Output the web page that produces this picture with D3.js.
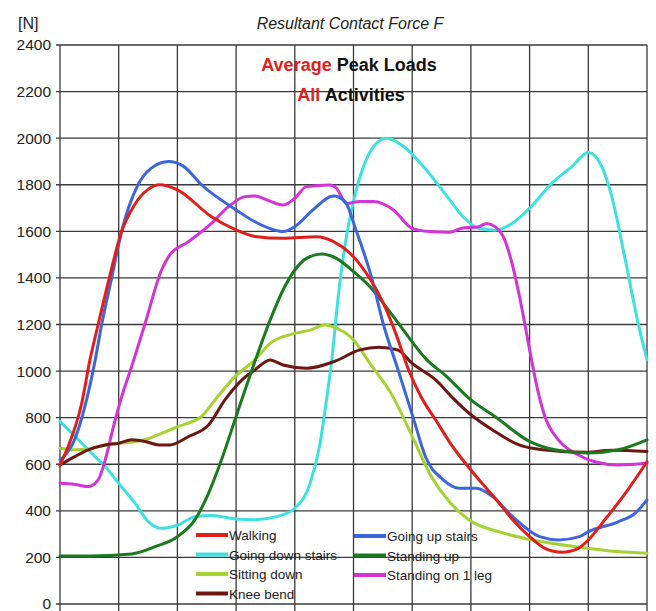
<!DOCTYPE html>
<html><head><meta charset="utf-8">
<script src="https://cdn.jsdelivr.net/npm/d3@7"></script>
<style>
body{margin:0;background:#fff;}
text{font-family:"Liberation Sans",Arial,sans-serif;}
</style></head>
<body><svg id="c" width="656" height="611"></svg>
<script>
const yTicks = [0,200,400,600,800,1000,1200,1400,1600,1800,2000,2200,2400];
const xTicks = [0,10,20,30,40,50,60,70,80,90,100];

const walking = [[0,597],[1.4,677],[3.7,862],[5.1,1048],[6.5,1200],[8.4,1400],[10.5,1600],[12.5,1706],[15,1780],[17,1800],[20,1778],[25.8,1663],[30,1606],[33.2,1578],[38,1570],[43.7,1577],[46.6,1556],[49.4,1506],[52.2,1420],[55.1,1291],[57.4,1148],[59.3,1010],[61.5,890],[64,790],[66.5,690],[69.2,600],[72,515],[74.1,455],[77,365],[80,289],[82.6,239],[85.5,222],[88.3,239],[90,275],[92.8,361],[96.3,475],[100,611]];
const goingDown = [[0,783],[2.6,719],[4.8,662],[7.7,590],[10,518],[12.8,432],[15,355],[17.3,325],[20,338],[23,375],[25.8,380],[30,365],[33.2,362],[36.9,375],[40,411],[42.6,518],[44.3,689],[45.4,876],[46.3,1048],[47.4,1320],[48.8,1578],[50,1728],[51.7,1878],[53.9,1978],[55.6,2000],[58.5,1965],[61.9,1878],[66.4,1735],[68.4,1670],[71.3,1613],[74.1,1605],[77,1634],[80,1699],[83.8,1807],[87.2,1878],[90,1938],[92.3,1878],[94,1749],[96.3,1477],[98.5,1205],[100,1048]];
const sittingDown = [[0,669],[2.6,662],[4.8,665],[7.7,683],[10,690],[14.5,705],[17.3,733],[20,761],[24.1,805],[26.4,876],[29.8,976],[33.2,1048],[35.8,1119],[40,1162],[42.6,1176],[45.1,1198],[47.1,1184],[50,1134],[52.8,1033],[56.5,900],[60,720],[63.2,550],[66.3,440],[69.7,361],[74.8,310],[80.5,275],[87.9,246],[95,225],[100,218]];
const kneeBend = [[0,597],[2.6,634],[4.8,662],[7.7,683],[10,690],[12.2,705],[14.5,698],[16.8,683],[18.7,683],[21.9,719],[25.3,769],[28.1,876],[31,962],[33.2,1005],[35.8,1048],[38,1026],[42,1012],[46.6,1040],[51.1,1091],[54.3,1102],[57.5,1091],[60,1033],[64,962],[66.9,885],[69.7,819],[73.7,747],[78.2,683],[82.2,662],[89.7,651],[94,660],[100,655]];
const goingUp = [[0,618],[2.6,713],[4.8,905],[6,1048],[7.1,1200],[8.8,1400],[10.5,1600],[13.3,1800],[15.5,1870],[18.5,1900],[21,1880],[24.1,1800],[30,1692],[33.2,1641],[36,1610],[38,1599],[40,1620],[43,1690],[46.6,1752],[48.5,1730],[50.5,1600],[53.1,1400],[55.1,1200],[57.6,1005],[60.2,797],[62.3,630],[65.2,535],[68,497],[70.9,497],[73.7,461],[77.1,375],[81.7,289],[85,275],[88.5,289],[90,310],[95.1,353],[98,390],[100,447]];
const standingUp = [[0,206],[5,206],[12.2,215],[16.2,246],[20,289],[23,362],[25.3,475],[27.5,618],[30,805],[32.7,1005],[35.8,1219],[38,1348],[40,1434],[42,1484],[44.6,1503],[47.1,1484],[50,1427],[52.8,1362],[55.1,1291],[58.5,1176],[62.5,1048],[65.6,983],[70,876],[74.1,805],[80,698],[84.3,662],[90,648],[95.1,662],[100,705]];
const standingOneLeg = [[0,518],[2.6,513],[4.8,504],[6.5,533],[7.7,618],[9.1,761],[10.5,890],[12.2,1019],[14.5,1205],[17.3,1434],[18.7,1499],[21.9,1556],[25.8,1634],[28.7,1706],[31.5,1749],[33.2,1752],[35.2,1735],[38,1713],[40,1742],[42,1792],[46,1799],[47.1,1785],[48.8,1720],[51.1,1728],[53.4,1728],[56.8,1692],[60,1613],[63,1599],[66.4,1596],[68.4,1613],[71.3,1620],[72.7,1634],[74.1,1620],[75.5,1578],[77,1463],[78.4,1305],[79.8,1119],[81.5,905],[82.6,805],[84.9,705],[88.3,640],[91.1,611],[95.1,597],[100,604]];

const seriesNames = ["Going down stairs","Standing on 1 leg","Sitting down","Knee bend","Standing up","Going up stairs","Walking"];
const seriesData = [goingDown, standingOneLeg, sittingDown, kneeBend, standingUp, goingUp, walking];
const seriesColors = ["#3fe0e0","#d433d8","#a6d233","#6e1612","#1b7a1f","#3d66d8","#e01f1c"];

const legendLeft = ["Walking","Going down stairs","Sitting down","Knee bend"];
const legendRight = ["Going up stairs","Standing up","Standing on 1 leg"];

const svg = d3.select("#c");
const L=60, R=647, T=45, B=604;
const x = d3.scaleLinear().domain([0,100]).range([L,R]);
const y = d3.scaleLinear().domain([0,2400]).range([B,T]);

// grid
const g = svg.append("g");
g.selectAll(".hg").data(yTicks).join("line")
  .attr("x1",L-4).attr("x2",R).attr("y1",d=>y(d)).attr("y2",d=>y(d))
  .attr("stroke","#3a3a3a").attr("stroke-width",1.3);
g.selectAll(".vg").data(xTicks).join("line")
  .attr("x1",d=>x(d)).attr("x2",d=>x(d)).attr("y1",T).attr("y2",B+8)
  .attr("stroke","#3a3a3a").attr("stroke-width",1.3);

// y axis labels
const ya = svg.append("g").attr("transform",`translate(${L},0)`)
  .call(d3.axisLeft(y).tickValues(yTicks).tickFormat(d3.format("d")).tickSize(0).tickPadding(9));
ya.select(".domain").remove();
ya.selectAll("text").attr("font-size",15.5).attr("fill","#222")
  .attr("font-family","'Liberation Sans',Arial,sans-serif");

// lines
const line = d3.line().x(d=>x(d[0])).y(d=>y(d[1])).curve(d3.curveMonotoneX);
svg.append("g").selectAll("path").data(seriesData).join("path")
  .attr("d",line).attr("fill","none")
  .attr("stroke",(d,i)=>seriesColors[i]).attr("stroke-width",3)
  .attr("stroke-linejoin","round").attr("stroke-linecap","round");

// titles
svg.append("text").attr("x",18).attr("y",29).attr("font-size",16).attr("fill","#222").text("[N]");
svg.append("text").attr("x",350).attr("y",29).attr("text-anchor","middle")
  .attr("font-size",16).attr("font-style","italic").attr("fill","#222").text("Resultant Contact Force F");
const t1 = svg.append("text").attr("x",349).attr("y",71).attr("text-anchor","middle")
  .attr("font-size",18).attr("font-weight","bold");
t1.append("tspan").attr("fill","#e01f1c").text("Average");
t1.append("tspan").attr("fill","#111").text(" Peak Loads");
const t2 = svg.append("text").attr("x",351).attr("y",101).attr("text-anchor","middle")
  .attr("font-size",18).attr("font-weight","bold");
t2.append("tspan").attr("fill","#e01f1c").text("All");
t2.append("tspan").attr("fill","#111").text(" Activities");

// legend
function legendCol(names, x0, y0){
  const gg = svg.append("g");
  names.forEach((n,i)=>{
    const yy = y0 + i*19.5;
    const ci = seriesNames.indexOf(n);
    gg.append("line").attr("x1",x0).attr("x2",x0+32).attr("y1",yy).attr("y2",yy)
      .attr("stroke",seriesColors[ci]).attr("stroke-width",4);
    gg.append("text").attr("x",x0+33).attr("y",yy+5).attr("font-size",13.5)
      .attr("fill","#222").text(n);
  });
}
legendCol(legendLeft,196,535);
legendCol(legendRight,354,536);
</script></body></html>
